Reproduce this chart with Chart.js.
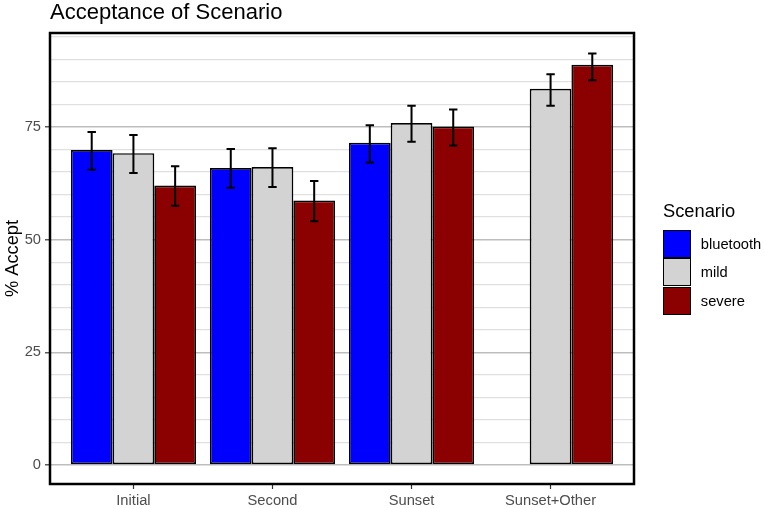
<!DOCTYPE html>
<html>
<head>
<meta charset="utf-8">
<title>Acceptance of Scenario</title>
<script src="https://cdn.jsdelivr.net/npm/chart.js@4.4.1/dist/chart.umd.min.js"></script>
<style>
  body { margin: 0; background: #fff; font-family: 'Liberation Sans', Arial, sans-serif; }
  #wrap { position: relative; width: 764px; height: 508px; }
  #title { position: absolute; left: 50px; top: 1px; font-size: 22px; line-height: 22px; color: #000; white-space: nowrap; }
  #legend { position: absolute; left: 663px; top: 202px; }
  #legend .ltitle { font-size: 18.3px; line-height: 18.3px; color: #000; margin-bottom: 9px; }
  #legend .item { display: flex; align-items: center; height: 28.8px; }
  #legend .key { width: 28px; height: 28px; box-sizing: border-box; border: 1.8px solid #000; }
  #legend .lab { margin-left: 9.8px; font-size: 14.7px; color: #000; }
</style>
</head>
<body>
<div id="wrap">
  <canvas id="chart" width="764" height="508"></canvas>
  <div id="title">Acceptance of Scenario</div>
  <div id="legend"><div class="ltitle">Scenario</div></div>
</div>
<script>
// ---- data ----
const categories = ['Initial', 'Second', 'Sunset', 'Sunset+Other'];
const scenarios = ['bluetooth', 'mild', 'severe'];
const scenarioColors = ['#0000FF', '#D3D3D3', '#8B0000'];

const bluetooth = [69.9, 65.9, 71.5, null];
const mild = [69.2, 66.1, 75.9, 83.5];
const severe = [62.0, 58.7, 75.1, 88.8];

const bluetoothLow = [65.5, 61.5, 67.1, null];
const bluetoothHigh = [73.9, 70.1, 75.4, null];
const mildLow = [64.8, 61.7, 71.7, 79.7];
const mildHigh = [73.2, 70.3, 79.7, 86.7];
const severeLow = [57.5, 54.1, 70.9, 85.4];
const severeHigh = [66.3, 63.0, 78.9, 91.3];

const yGridTicks = [0, 5, 10, 15, 20, 25, 30, 35, 40, 45, 50, 55, 60, 65, 70, 75, 80, 85, 90, 95];
const yLabelTicks = [0, 25, 50, 75];

const series = [bluetooth, mild, severe];
const lows = [bluetoothLow, mildLow, severeLow];
const highs = [bluetoothHigh, mildHigh, severeHigh];

Chart.defaults.font.family = "'Liberation Sans', Arial, sans-serif";

// error bars drawn on top of the bars
const errorBars = {
    id: 'errorBars',
    afterDatasetsDraw(chart) {
        const ctx = chart.ctx;
        const yScale = chart.scales.y;
        ctx.save();
        ctx.strokeStyle = '#000';
        ctx.lineWidth = 2;
        chart.data.datasets.forEach((ds, i) => {
            const meta = chart.getDatasetMeta(i);
            meta.data.forEach((bar, j) => {
                if (ds.low[j] == null) return;
                const x = bar.x;
                const top = yScale.getPixelForValue(ds.high[j]);
                const bot = yScale.getPixelForValue(ds.low[j]);
                ctx.beginPath();
                ctx.moveTo(x, top); ctx.lineTo(x, bot);
                ctx.moveTo(x - 4.2, top); ctx.lineTo(x + 4.2, top);
                ctx.moveTo(x - 4.2, bot); ctx.lineTo(x + 4.2, bot);
                ctx.stroke();
            });
        });
        ctx.restore();
    }
};

// black panel border like ggplot
const panelBorder = {
    id: 'panelBorder',
    afterDraw(chart) {
        const { ctx, chartArea: a } = chart;
        ctx.save();
        ctx.strokeStyle = '#000';
        ctx.lineWidth = 2.5;
        ctx.strokeRect(a.left, a.top, a.right - a.left, a.bottom - a.top);
        ctx.restore();
    }
};

const datasets = scenarios.map((name, i) => ({
    label: name,
    data: categories.map((c, j) => ({ x: j + 1, y: series[i][j] })),
    low: lows[i],
    high: highs[i],
    backgroundColor: scenarioColors[i],
    borderColor: '#000',
    borderWidth: 1.7,
    borderSkipped: false,
    categoryPercentage: 0.9,
    barPercentage: 1
}));

new Chart(document.getElementById('chart'), {
    type: 'bar',
    data: { datasets },
    plugins: [errorBars, panelBorder],
    options: {
        responsive: false,
        animation: false,
        layout: { padding: { top: 33, right: 130, bottom: 0, left: 0 } },
        plugins: { legend: { display: false }, tooltip: { enabled: false } },
        scales: {
            x: {
                type: 'linear',
                min: 0.4,
                max: 4.6,
                offset: false,
                afterBuildTicks: s => { s.ticks = categories.map((c, i) => ({ value: i + 1 })); },
                afterFit: s => { s.height = 24; },
                grid: { offset: false, drawOnChartArea: false, drawTicks: true, tickLength: 5, tickColor: '#333', tickWidth: 1.2 },
                border: { display: false },
                ticks: {
                    autoSkip: false, maxRotation: 0, padding: 3,
                    color: '#4d4d4d', font: { size: 14.7 },
                    callback: v => categories[v - 1]
                }
            },
            y: {
                min: -4.22,
                max: 95.86,
                afterBuildTicks: s => { s.ticks = yGridTicks.map(v => ({ value: v })); },
                afterFit: s => { s.width = 50; },
                grid: {
                    color: c => yLabelTicks.includes(c.tick.value) ? '#bdbdbd' : '#e0e0e0',
                    lineWidth: c => yLabelTicks.includes(c.tick.value) ? 1.6 : 1.3,
                    tickColor: c => yLabelTicks.includes(c.tick.value) ? '#333' : 'rgba(0,0,0,0)',
                    tickWidth: 1.2,
                    tickLength: 5
                },
                border: { display: false },
                title: { display: true, text: '% Accept', color: '#000', font: { size: 18.3 }, padding: { top: 2, bottom: 0 } },
                ticks: {
                    autoSkip: false, padding: 4,
                    color: '#4d4d4d', font: { size: 14.7 },
                    callback: v => yLabelTicks.includes(v) ? String(v) : ''
                }
            }
        }
    }
});

// legend built from the same names and colours
const legend = document.getElementById('legend');
scenarios.forEach((name, i) => {
    const row = document.createElement('div');
    row.className = 'item';
    row.innerHTML = `<div class="key" style="background:${scenarioColors[i]}"></div><div class="lab">${name}</div>`;
    legend.appendChild(row);
});
</script>
</body>
</html>
